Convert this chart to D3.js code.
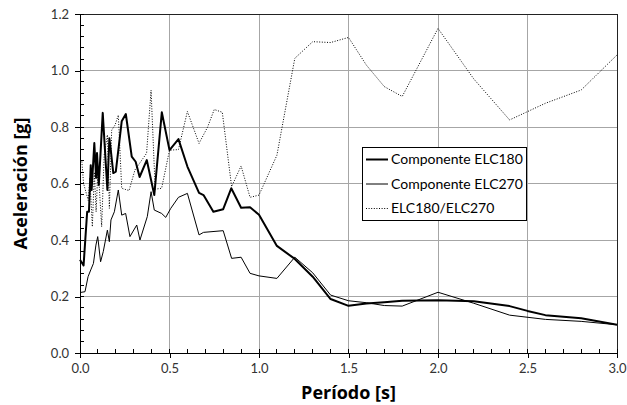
<!DOCTYPE html>
<html><head><meta charset="utf-8">
<script src="https://cdn.jsdelivr.net/npm/d3@7"></script>
<style>body{margin:0;background:#fff}svg{display:block}</style>
</head><body>
<script>
const xTicks = [0.0, 0.5, 1.0, 1.5, 2.0, 2.5, 3.0];
const yTicks = [0.0, 0.2, 0.4, 0.6, 0.8, 1.0, 1.2];
const seriesNames = ["Componente ELC180", "Componente ELC270", "ELC180/ELC270"];

const elc180T = [0.0,0.02,0.04,0.05,0.06,0.065,0.08,0.09,0.095,0.105,0.127,0.153,0.164,0.17,0.186,0.2,0.233,0.256,0.289,0.311,0.333,0.373,0.415,0.457,0.5,0.55,0.6,0.665,0.69,0.745,0.8,0.845,0.9,0.95,1.0,1.1,1.2,1.3,1.4,1.5,1.6,1.7,1.8,2.0,2.2,2.4,2.5,2.6,2.8,3.0];
const elc180V = [0.33,0.31,0.50,0.50,0.665,0.577,0.743,0.62,0.708,0.595,0.85,0.577,0.76,0.73,0.637,0.642,0.82,0.846,0.695,0.677,0.623,0.683,0.559,0.852,0.718,0.757,0.66,0.567,0.559,0.50,0.509,0.583,0.514,0.516,0.489,0.379,0.333,0.27,0.191,0.167,0.175,0.18,0.185,0.187,0.183,0.166,0.149,0.134,0.123,0.10];

const elc270T = [0.0,0.028,0.045,0.06,0.075,0.089,0.099,0.115,0.13,0.153,0.164,0.173,0.192,0.214,0.233,0.255,0.279,0.317,0.335,0.376,0.397,0.415,0.456,0.479,0.507,0.55,0.6,0.665,0.69,0.8,0.847,0.9,0.95,1.0,1.1,1.2,1.3,1.4,1.5,1.6,1.7,1.8,2.0,2.2,2.4,2.6,2.8,3.0];
const elc270V = [0.214,0.217,0.27,0.294,0.317,0.382,0.412,0.323,0.359,0.435,0.394,0.471,0.50,0.577,0.488,0.494,0.412,0.453,0.40,0.483,0.571,0.506,0.494,0.48,0.512,0.551,0.565,0.418,0.427,0.433,0.335,0.339,0.282,0.273,0.264,0.339,0.284,0.205,0.185,0.178,0.168,0.166,0.215,0.176,0.134,0.119,0.112,0.10];

const ratioT = [0.0,0.01,0.02,0.046,0.055,0.069,0.08,0.09,0.1,0.106,0.121,0.135,0.153,0.164,0.177,0.196,0.214,0.233,0.274,0.307,0.372,0.397,0.42,0.456,0.5,0.55,0.6,0.665,0.713,0.75,0.795,0.847,0.9,0.95,1.0,1.1,1.2,1.3,1.4,1.5,1.6,1.7,1.8,2.0,2.2,2.4,2.6,2.8,3.0];
const ratioV = [0.683,0.68,0.60,0.54,0.62,0.447,0.64,0.50,0.65,0.606,0.447,0.70,0.772,0.512,0.789,0.807,0.842,0.583,0.575,0.648,0.707,0.93,0.58,0.583,0.718,0.72,0.855,0.742,0.80,0.862,0.852,0.589,0.662,0.551,0.559,0.70,1.043,1.102,1.099,1.117,1.019,0.943,0.908,1.149,0.97,0.825,0.884,0.931,1.055];

const W = 627, H = 405;
const m = {left: 80, right: 10, top: 14, bottom: 52};
const svg = d3.select("body").append("svg").attr("width", W).attr("height", H);
const x = d3.scaleLinear().domain([0, 3]).range([m.left, W - m.right]);
const y = d3.scaleLinear().domain([0, 1.2]).range([H - m.bottom, m.top]);
const font = "Lato, 'Open Sans', sans-serif";
const titleFont = "'Open Sans', Lato, sans-serif";

// gridlines
svg.append("g").selectAll("line").data(xTicks.slice(1)).join("line")
  .attr("x1", d => x(d)).attr("x2", d => x(d)).attr("y1", y(0)).attr("y2", y(1.2))
  .attr("stroke", "#a6a6a6").attr("stroke-width", 1).attr("shape-rendering", "crispEdges");
svg.append("g").selectAll("line").data(yTicks.slice(1)).join("line")
  .attr("x1", x(0)).attr("x2", x(3)).attr("y1", d => y(d)).attr("y2", d => y(d))
  .attr("stroke", "#a6a6a6").attr("stroke-width", 1).attr("shape-rendering", "crispEdges");

// plot border (top/right)
svg.append("path")
  .attr("d", `M${x(0)},${y(1.2)}H${x(3)}V${y(0)}`)
  .attr("fill", "none").attr("stroke", "#222").attr("stroke-width", 1).attr("shape-rendering", "crispEdges");

// minor ticks (inside)
const xMinor = d3.range(0, 31).map(i => i / 10);
const yMinor = d3.range(0, 31).map(i => i * 0.04);
svg.append("g").selectAll("line").data(xMinor).join("line")
  .attr("x1", d => x(d)).attr("x2", d => x(d)).attr("y1", y(0)).attr("y2", y(0) - 4)
  .attr("stroke", "#000").attr("shape-rendering", "crispEdges");
svg.append("g").selectAll("line").data(yMinor).join("line")
  .attr("x1", x(0)).attr("x2", x(0) + 4).attr("y1", d => y(d)).attr("y2", d => y(d))
  .attr("stroke", "#000").attr("shape-rendering", "crispEdges");

// axes
const xAxis = d3.axisBottom(x).tickValues(xTicks).tickFormat(d3.format(".1f")).tickSize(5).tickPadding(6);
const yAxis = d3.axisLeft(y).tickValues(yTicks).tickFormat(d3.format(".1f")).tickSize(5).tickPadding(6);
const gx = svg.append("g").attr("transform", `translate(0,${y(0)})`).call(xAxis);
const gy = svg.append("g").attr("transform", `translate(${x(0)},0)`).call(yAxis);
[gx, gy].forEach(g => {
  g.select(".domain").attr("stroke", "#000").attr("shape-rendering", "crispEdges");
  g.selectAll(".tick line").attr("stroke", "#000").attr("shape-rendering", "crispEdges");
  g.selectAll(".tick text").attr("font-family", font).attr("font-size", 13).attr("fill", "#333");
});
gy.select(".domain").attr("d", `M-5,${y(1.2)}H0V${y(0)}H-5`);

// lines
const line = d3.line().x(d => x(d[0])).y(d => y(d[1]));
const zip = (a, b) => a.map((t, i) => [t, b[i]]);
svg.append("path").datum(zip(elc270T, elc270V)).attr("d", line)
  .attr("fill", "none").attr("stroke", "#000").attr("stroke-width", 1).attr("stroke-linejoin", "round");
svg.append("path").datum(zip(ratioT, ratioV)).attr("d", line)
  .attr("fill", "none").attr("stroke", "#000").attr("stroke-width", 1).attr("stroke-dasharray", "1,1.6");
svg.append("path").datum(zip(elc180T, elc180V)).attr("d", line)
  .attr("fill", "none").attr("stroke", "#000").attr("stroke-width", 2).attr("stroke-linejoin", "round");

// legend
const lg = svg.append("g").attr("transform", "translate(362,147)");
lg.append("rect").attr("x", 0.5).attr("y", 0.5).attr("width", 164).attr("height", 73)
  .attr("fill", "#fff").attr("stroke", "#000").attr("stroke-width", 1);
const styles = [{w: 2, dash: null}, {w: 1, dash: null}, {w: 1, dash: "1,1.6"}];
seriesNames.forEach((n, i) => {
  const yy = 12.5 + i * 24.5;
  lg.append("line").attr("x1", 4).attr("x2", 26).attr("y1", yy).attr("y2", yy)
    .attr("stroke", "#000").attr("stroke-width", styles[i].w).attr("stroke-dasharray", styles[i].dash);
  lg.append("text").attr("x", 29).attr("y", yy).attr("dy", "0.35em")
    .attr("font-family", font).attr("font-size", 14).attr("fill", "#000").text(n);
});

// titles
svg.append("text").attr("x", (x(0) + x(3)) / 2).attr("y", 399).attr("text-anchor", "middle")
  .attr("font-family", titleFont).attr("font-size", 18).attr("font-weight", "bold").text("Período [s]");
svg.append("text").attr("transform", `translate(27,${(y(0) + y(1.2)) / 2}) rotate(-90)`)
  .attr("text-anchor", "middle")
  .attr("font-family", titleFont).attr("font-size", 18).attr("font-weight", "bold").text("Aceleración [g]");
</script>
</body></html>
